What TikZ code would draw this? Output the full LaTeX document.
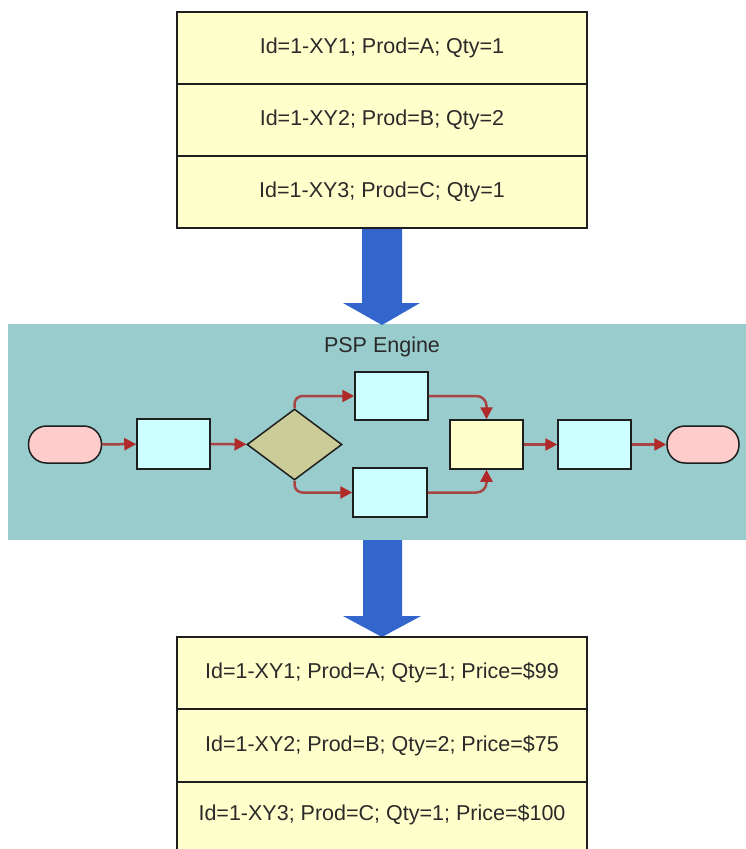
\documentclass[tikz,border=0pt]{standalone}
\usepackage{fontspec}
\setmainfont{Liberation Sans}
\usetikzlibrary{arrows.meta,shapes.geometric,calc}
\definecolor{rowfill}{HTML}{FFFFCC}
\definecolor{engfill}{HTML}{99CCCC}
\definecolor{bigarrow}{HTML}{3366CC}
\definecolor{termfill}{HTML}{FFCCCC}
\definecolor{boxfill}{HTML}{CCFFFF}
\definecolor{diafill}{HTML}{CCCC99}
\definecolor{connline}{HTML}{A84444}
\definecolor{conntip}{HTML}{B02A2A}
\definecolor{txt}{HTML}{2A2A2A}
\definecolor{edge}{HTML}{1E1E1E}
\begin{document}
\begin{tikzpicture}[x=1pt,y=-1pt,
  row/.style={draw=edge,line width=1.5pt,fill=rowfill,minimum width=410pt,minimum height=72pt,inner sep=0pt,
    font=\fontsize{21.5}{25}\selectfont,text=txt},
  stepbox/.style={draw=edge,line width=1.5pt,fill=boxfill,inner sep=0pt,minimum width=73pt,minimum height=49pt},
  term/.style={draw=edge,line width=1.5pt,fill=termfill,inner sep=0pt,rounded corners=18pt,minimum width=73pt,minimum height=37pt},
  conn/.style={draw=connline,line width=2.5pt,-{Triangle[length=12pt,width=12pt,fill=conntip,color=conntip]}},
  bigarr/.style={fill=bigarrow}]
\useasboundingbox (0,0) rectangle (746,849);
\clip (0,0) rectangle (746,849);
\fill[white] (0,0) rectangle (746,849);
% engine background
\node[fill=engfill,inner sep=0pt,minimum width=738pt,minimum height=216pt] (eng) at (377,432) {};
\node[font=\fontsize{21.5}{25}\selectfont,text=txt] (englabel) at (382,347) {PSP Engine};
% big arrows
\fill[bigarr] (362,226) -- (402,226) -- (402,303) -- (420,303) -- (382,325) -- (343,303) -- (362,303) -- cycle;
\fill[bigarr] (363,540) -- (402,540) -- (402,616) -- (421,616) -- (382,637) -- (343,616) -- (363,616) -- cycle;
% top table
\node[row] (t1) at (382,48) {Id=1-XY1; Prod=A; Qty=1};
\node[row] (t2) at (382,120) {Id=1-XY2; Prod=B; Qty=2};
\node[row] (t3) at (382,192) {Id=1-XY3; Prod=C; Qty=1};
% bottom table
\node[row] (b1r) at (382,673) {Id=1-XY1; Prod=A; Qty=1; Price=\$99};
\node[row,minimum height=73pt] (b2r) at (382,745.5) {Id=1-XY2; Prod=B; Qty=2; Price=\$75};
\node[row] (b3r) at (382,818) {};
\node[font=\fontsize{21.5}{25}\selectfont,text=txt] (b3t) at (382,815) {Id=1-XY3; Prod=C; Qty=1; Price=\$100};
% flow
\node[term] (start) at (65,444.5) {};
\node[stepbox,minimum height=50pt] (s1) at (173.5,444) {};
\node[diamond,draw=edge,line width=1.5pt,fill=diafill,inner sep=0pt,minimum width=95pt,minimum height=71pt] (dia) at (294.5,444.5) {};
\node[stepbox,minimum height=48pt] (up) at (391.5,396) {};
\node[stepbox,minimum width=74pt] (lo) at (390,492.5) {};
\node[stepbox,fill=rowfill] (yel) at (486.5,444.5) {};
\node[stepbox] (s2) at (594.5,444.5) {};
\node[term,minimum width=72pt] (stop) at (703,444.5) {};
\draw[conn] (start) -- (s1);
\draw[conn] (s1) -- (dia);
\draw[conn,rounded corners=8pt] (dia.north) |- (up.west);
\draw[conn,rounded corners=8pt] (dia.south) |- (lo.west);
\draw[conn,rounded corners=10pt] (up.east) -| (yel.north);
\draw[conn,rounded corners=10pt] (lo.east) -| (yel.south);
\draw[conn] (yel) -- (s2);
\draw[conn] (s2) -- (stop);
\end{tikzpicture}
\end{document}
